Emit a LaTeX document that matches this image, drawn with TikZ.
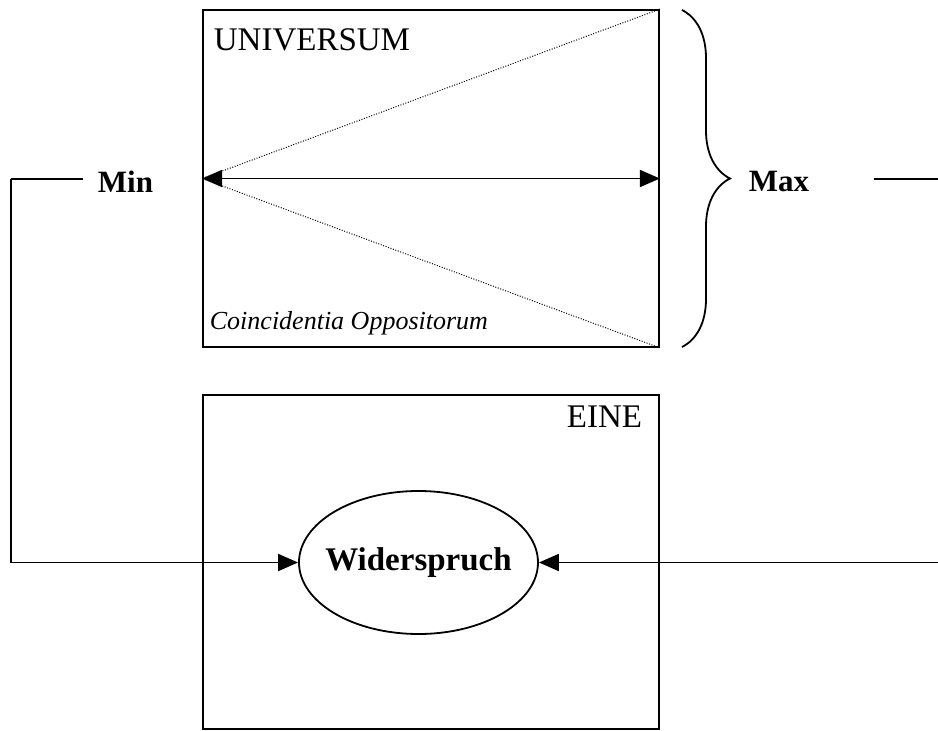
\documentclass[tikz,border=0pt]{standalone}
\usepackage{fontspec}
\setmainfont{Liberation Serif}
\usetikzlibrary{arrows.meta,shapes.geometric,decorations.pathreplacing}

\tikzset{
	feld/.style={draw, line width=1.8pt, minimum width=456pt, inner sep=0pt},
	marke/.style={font=\fontsize{31}{33}\selectfont\bfseries, inner sep=0pt},
	titel/.style={inner sep=0pt, font=\fontsize{33}{35}\selectfont},
	spitze/.style={Triangle[length=20pt,width=17pt]},
	pfeil/.style={line width=1.8pt, -{Triangle[length=20pt,width=17pt]}},
	punkte/.style={line width=1pt, dash pattern=on 1pt off 1.6pt}
	}

\begin{document}
\begin{tikzpicture}
	[x=1pt, y=-1pt, line width=1.8pt]
	\useasboundingbox (0,0) rectangle (938,731);
	\node[feld, minimum height=337pt] (univ) at (431,178.5) {};
	\node[feld, minimum height=334pt] (eine) at (431,562) {};
	\node[titel, anchor=west] (univtxt) at (213,40) {UNIVERSUM};
	\node[anchor=west, inner sep=0pt, font=\fontsize{26}{28}\selectfont\itshape] (coinc) at (209,323) {Coincidentia Oppositorum};
	\node[titel, anchor=east] (einetxt) at (643,417) {EINE};
	\draw[punkte] (univ.north east) -- (univ.west) -- (univ.south east);
	\draw[{Triangle[length=20pt,width=17pt]}-{Triangle[length=20pt,width=17pt]}] (univ.west) -- (univ.east);
	\draw[decorate, decoration={brace, amplitude=48pt}] (682,10) -- (682,347);
	\node[marke] (maxlbl) at (779,181) {Max};
	\node[marke] (minlbl) at (125.5,182) {Min};
	\node[draw, ellipse, minimum width=239pt, minimum height=143pt, inner xsep=-15pt, inner ysep=0pt,
		font=\fontsize{33}{35}\selectfont\bfseries] (wider) at (418.5,562.5) {Widerspruch};
	\coordinate (minend) at (83,179);
	\coordinate (links) at (11,179);
	\coordinate (maxend) at (874,179);
	\coordinate (rechts) at (942,179);
	\draw (minend) -- (links);
	\draw[pfeil] (links) |- (wider.west);
	\draw (maxend) -- (rechts);
	\draw[pfeil] (rechts) |- (wider.east);
	\end{tikzpicture}
\end{document}
